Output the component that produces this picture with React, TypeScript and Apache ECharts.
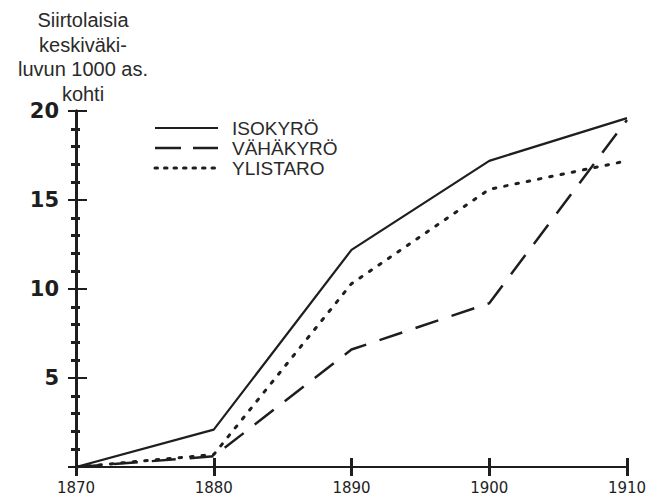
import React, { useEffect, useRef } from "react";
import * as echarts from "echarts";

const years = [1870, 1880, 1890, 1900, 1910];
const isokyro = [0, 2.1, 12.2, 17.2, 19.6];
const vahakyro = [0, 0.6, 6.6, 9.2, 19.5];
const ylistaro = [0, 0.7, 10.3, 15.6, 17.2];
const seriesNames = ["ISOKYRÖ", "VÄHÄKYRÖ", "YLISTARO"];
const titleLines = ["Siirtolaisia", "keskiväki-", "luvun 1000 as.", "kohti"];

const ink = "#1e1e1e";
const dashes: (number[] | null)[] = [null, [24, 14], [2.5, 9]];
const widths = [2.2, 2.5, 3];

export default function App() {
  const ref = useRef<HTMLDivElement>(null);
  useEffect(() => {
    if (!ref.current) return;
    const chart = echarts.init(ref.current, null, { renderer: "svg" });
    const pair = (vals: number[]) => years.map((y, i) => [y, vals[i]]);
    const yBase = {
      type: "value",
      min: 0,
      max: 20,
      interval: 5,
      position: "left",
      splitLine: { show: false },
      axisLine: { show: true, onZero: false, lineStyle: { color: ink, width: 3 } },
    };
    const xBase = {
      type: "value",
      min: 1870,
      max: 1910,
      interval: 10,
      position: "bottom",
      splitLine: { show: false },
      axisLine: { show: true, onZero: false, lineStyle: { color: ink, width: 2 } },
    };
    const legendGraphics: any[] = [];
    seriesNames.forEach((n, i) => {
      const y = 128 + i * 20;
      legendGraphics.push({
        type: "line",
        shape: { x1: 155, y1: y, x2: 218, y2: y },
        style: {
          stroke: ink,
          lineWidth: widths[i],
          lineDash: dashes[i] ? (i === 1 ? [26, 12] : [2.5, 7]) : null,
          lineCap: i === 2 ? "round" : "butt",
        },
      });
      legendGraphics.push({
        type: "text",
        x: 232,
        y,
        style: {
          text: n,
          fill: "#2a2a2a",
          fontFamily: "Liberation Sans",
          fontSize: 19,
          textAlign: "left",
          textVerticalAlign: "middle",
        },
      });
    });
    chart.setOption({
      animation: false,
      backgroundColor: "#ffffff",
      grid: { left: 76, right: 25, top: 111, bottom: 37 },
      xAxis: [
        {
          ...xBase,
          axisTick: { show: true, inside: false, length: 9, lineStyle: { color: ink, width: 3 } },
          axisLabel: {
            show: true,
            margin: 13,
            fontFamily: "DejaVu Sans",
            fontSize: 15,
            color: ink,
            formatter: (v: number) => String(v),
          },
        },
        {
          ...xBase,
          axisTick: { show: true, inside: true, length: 9, lineStyle: { color: ink, width: 3 } },
          axisLabel: { show: false },
        },
      ],
      yAxis: [
        {
          ...yBase,
          axisTick: { show: true, inside: false, length: 8, lineStyle: { color: ink, width: 2 } },
          minorTick: { show: true, splitNumber: 5, length: 5, lineStyle: { color: ink, width: 3 } },
          axisLabel: {
            show: true,
            margin: 17,
            showMinLabel: false,
            fontFamily: "DejaVu Sans",
            fontWeight: "bold",
            fontSize: 21,
            color: ink,
            formatter: (v: number) => (v === 0 ? "" : String(v)),
          },
        },
        {
          ...yBase,
          axisTick: { show: true, inside: true, length: 11, lineStyle: { color: ink, width: 2 } },
          minorTick: { show: true, splitNumber: 5, length: 4, lineStyle: { color: ink, width: 3 } },
          axisLabel: { show: false },
        },
      ],
      graphic: [
        ...titleLines.map((t, i) => ({
          type: "text",
          x: 83,
          y: 20 + i * 24.5,
          style: {
            text: t,
            fill: "#2a2a2a",
            fontFamily: "Liberation Sans",
            fontSize: 20,
            textAlign: "center",
            textVerticalAlign: "middle",
          },
        })),
        ...legendGraphics,
      ],
      series: [
        {
          name: seriesNames[0],
          type: "line",
          data: pair(isokyro),
          symbol: "none",
          lineStyle: { color: ink, width: widths[0] },
        },
        {
          name: seriesNames[1],
          type: "line",
          data: pair(vahakyro),
          symbol: "none",
          lineStyle: { color: ink, width: widths[1], type: dashes[1] },
        },
        {
          name: seriesNames[2],
          type: "line",
          data: pair(ylistaro),
          symbol: "none",
          lineStyle: { color: ink, width: widths[2], type: dashes[2], cap: "round" },
        },
      ],
    });
    return () => chart.dispose();
  }, []);
  return (
    <div
      ref={ref}
      style={{ position: "fixed", left: 0, top: 0, width: 652, height: 504, background: "#fff" }}
    />
  );
}
